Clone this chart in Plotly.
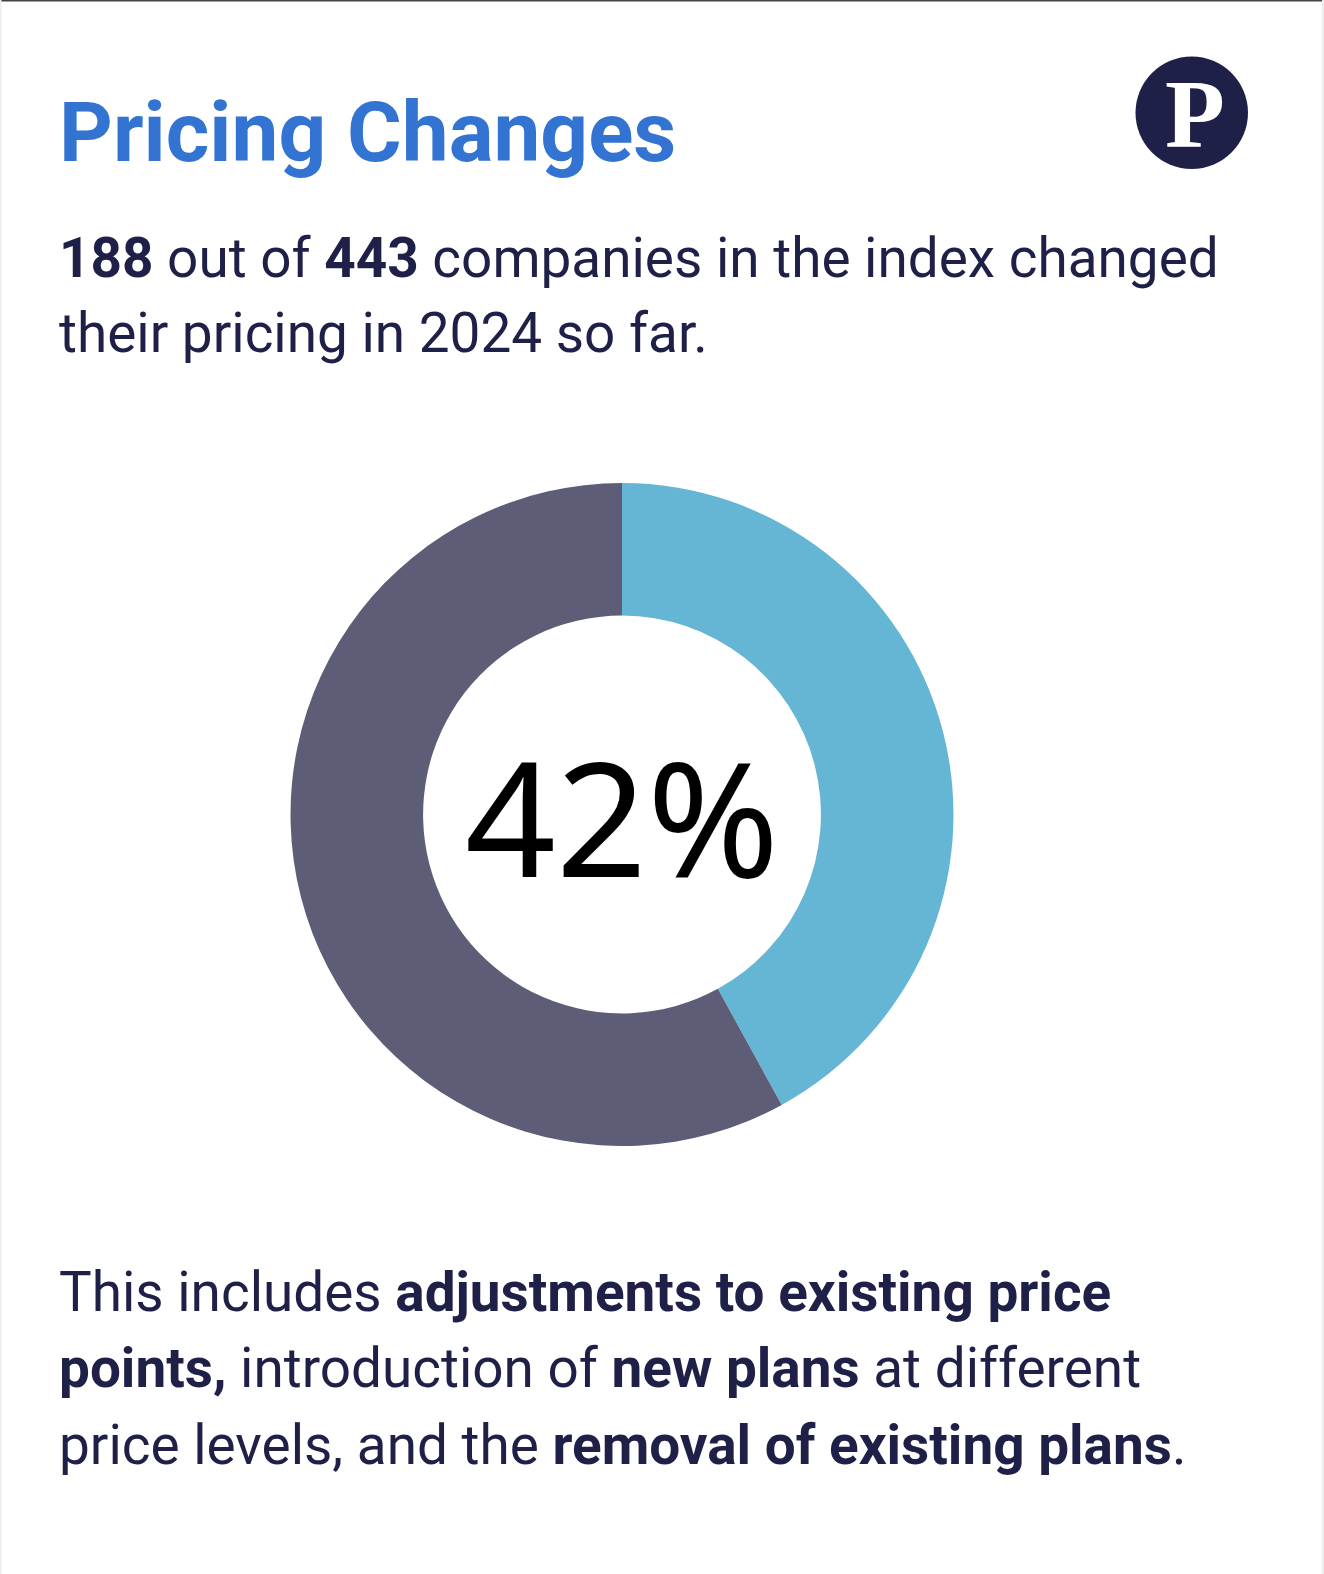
import plotly.graph_objects as go

labels = ["Changed pricing", "No change"]
values = [42, 58]
colors = ["#65B5D4", "#5D5D78"]
center_text = "42%"
title = "Pricing Changes"
intro = ["<b>188</b> out of <b>443</b> companies in the index changed", "their pricing in 2024 so far."]
outro = ["This includes <b>adjustments to existing price</b>", "<b>points,</b> introduction of <b>new plans</b> at different", "price levels, and the <b>removal of existing plans</b>."]

W, H = 1324, 1574
NAVY = "#1F2047"

fig = go.Figure(go.Pie(labels=labels, values=values, hole=0.6, sort=False, direction="clockwise",
    rotation=0, marker=dict(colors=colors, line=dict(width=0)), textinfo="none",
    domain=dict(x=[290.5/W, 953.5/W], y=[1-1146/H, 1-483/H]), showlegend=False))

def text(x, y, s, size, color=NAVY, anchor="left", font="Roboto"):
    fig.add_annotation(x=x/W, y=1-y/H, xref="paper", yref="paper", text=s, showarrow=False,
        xanchor=anchor, yanchor="middle", font=dict(family=font, size=size, color=color))

text(57, 132, "<b>%s</b>" % title, 83.7, color="#3373D1")
for i, l in enumerate(intro):
    text(57, 258 + i*75.5, l, 54.9)
for i, l in enumerate(outro):
    text(57, 1292 + i*76.3, l, 54.9)
text(622, 815, center_text, 159, color="#000000", anchor="center", font="Noto Sans")

fig.add_shape(type="circle", xref="paper", yref="paper", x0=1135.5/W, x1=1248/W, y0=1-169/H, y1=1-56.5/H,
    fillcolor=NAVY, line=dict(width=0))
text(1195, 114, "<b>P</b>", 98, color="#FFFFFF", anchor="center", font="Liberation Serif")

fig.add_shape(type="line", xref="paper", yref="paper", x0=0, x1=1, y0=1-0.5/H, y1=1-0.5/H, line=dict(color="#444444", width=2))
fig.add_shape(type="line", xref="paper", yref="paper", x0=0.5/W, x1=0.5/W, y0=0, y1=1, line=dict(color="#EEEEEE", width=2))
fig.add_shape(type="line", xref="paper", yref="paper", x0=1-1/W, x1=1-1/W, y0=0, y1=1, line=dict(color="#EEEEEE", width=2))

fig.update_layout(width=W, height=H, margin=dict(l=0, r=0, t=0, b=0), paper_bgcolor="white", plot_bgcolor="white")
fig.write_html("out.html", config=dict(displayModeBar=False), post_script="document.body.style.margin='0';")
